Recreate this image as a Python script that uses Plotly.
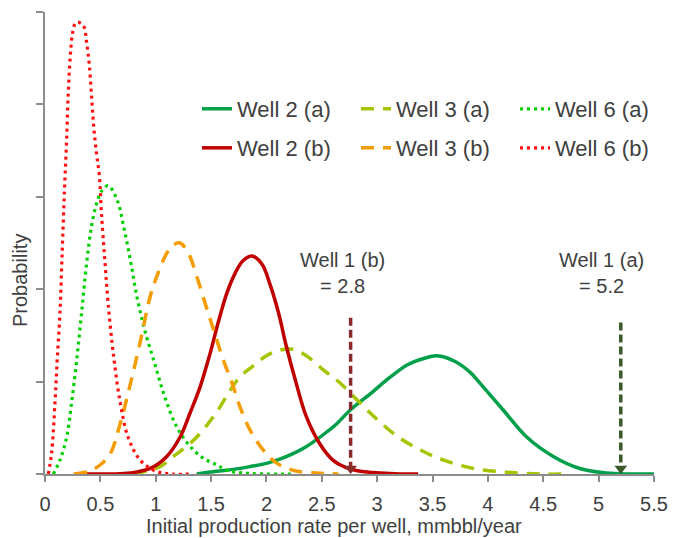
import plotly.graph_objects as go

# ---- distribution curves: initial production rate (mmbbl/year) vs probability ----
w2a_x = [1.37, 1.55, 1.70, 1.85, 2.00, 2.12, 2.24, 2.35, 2.45, 2.55, 2.64, 2.755, 2.94, 3.12,
         3.27, 3.42, 3.54, 3.70, 3.84, 3.93, 4.14, 4.35, 4.59, 4.83, 5.07, 5.30, 5.50]
w2a_y = [0.00, 0.03, 0.05, 0.08, 0.115, 0.16, 0.22, 0.29, 0.37, 0.46, 0.55, 0.69, 0.87, 1.05,
         1.18, 1.25, 1.28, 1.22, 1.10, 0.98, 0.69, 0.40, 0.19, 0.06, 0.01, 0.00, 0.00]

w3a_x = [0.80, 1.04, 1.16, 1.31, 1.43, 1.55, 1.67, 1.76, 1.88, 2.00, 2.12, 2.24, 2.36, 2.51,
         2.66, 2.82, 3.00, 3.19, 3.39, 3.60, 3.87, 4.17, 4.47, 4.71]
w3a_y = [0.00, 0.08, 0.19, 0.33, 0.48, 0.67, 0.90, 1.05, 1.17, 1.28, 1.34, 1.35, 1.28, 1.13,
         0.99, 0.80, 0.59, 0.40, 0.26, 0.15, 0.06, 0.02, 0.00, 0.00]

w6a_x = [0.075, 0.135, 0.196, 0.24, 0.286, 0.33, 0.376, 0.42, 0.467, 0.51, 0.57, 0.65, 0.71,
         0.77, 0.83, 0.90, 0.99, 1.08, 1.19, 1.31, 1.43, 1.55, 1.64, 1.80, 2.00, 2.24]
w6a_y = [0.00, 0.15, 0.40, 0.77, 1.23, 1.74, 2.28, 2.68, 2.93, 3.06, 3.12, 2.97, 2.68,
         2.32, 1.92, 1.56, 1.20, 0.84, 0.51, 0.30, 0.17, 0.10, 0.04, 0.01, 0.00, 0.00]

w2b_x = [0.37, 0.60, 0.77, 0.95, 1.10, 1.22, 1.31, 1.40, 1.49, 1.56, 1.64, 1.72, 1.79, 1.87,
         1.96, 2.03, 2.11, 2.18, 2.26, 2.36, 2.48, 2.60, 2.72, 2.85, 3.03, 3.20, 3.37]
w2b_y = [0.00, 0.00, 0.01, 0.06, 0.19, 0.40, 0.66, 0.94, 1.30, 1.62, 1.95, 2.18, 2.31, 2.36,
         2.27, 2.06, 1.74, 1.38, 1.02, 0.62, 0.33, 0.15, 0.07, 0.03, 0.01, 0.00, 0.00]

w3b_x = [0.26, 0.40, 0.50, 0.59, 0.68, 0.77, 0.86, 0.95, 1.02, 1.10, 1.16, 1.22, 1.295, 1.37,
         1.445, 1.52, 1.60, 1.69, 1.76, 1.85, 1.97, 2.09, 2.24, 2.45, 2.65]
w3b_y = [0.00, 0.03, 0.10, 0.22, 0.55, 0.97, 1.43, 1.92, 2.17, 2.39, 2.48, 2.50, 2.39, 2.14,
         1.85, 1.57, 1.27, 0.98, 0.73, 0.48, 0.26, 0.12, 0.04, 0.01, 0.00]

w6b_x = [0.03, 0.06, 0.09, 0.11, 0.135, 0.155, 0.175, 0.195, 0.21, 0.23, 0.25, 0.275, 0.30,
         0.33, 0.355, 0.375, 0.40, 0.42, 0.44, 0.465, 0.49, 0.51, 0.54, 0.57, 0.62, 0.68,
         0.75, 0.86, 1.00, 1.15, 1.34]
w6b_y = [0.00, 0.23, 0.77, 1.23, 1.74, 2.39, 3.05, 3.61, 4.12, 4.55, 4.78, 4.88, 4.89,
         4.87, 4.83, 4.68, 4.43, 4.10, 3.76, 3.47, 3.24, 2.82, 2.32, 1.85, 1.27, 0.77,
         0.40, 0.15, 0.03, 0.00, 0.00]

# Well 1 reference values (vertical arrows)
well1_names = ["Well 1 (b)", "Well 1 (a)"]
well1_x = [2.76, 5.20]
well1_top = [1.69, 1.64]

x_ticks = [0, 0.5, 1, 1.5, 2, 2.5, 3, 3.5, 4, 4.5, 5, 5.5]
x_tick_text = ["0", "0.5", "1", "1.5", "2", "2.5", "3", "3.5", "4", "4.5", "5", "5.5"]

# ---- styling ----
W, H = 673, 538
M_L, M_R, M_T, M_B = 45, 19, 12, 64
Y_MAX = 5
TEXT = "#404040"
FONT = "Liberation Sans, Arial, sans-serif"
DASH = "13px,9px"
DOT = "3px,4px"

series = [
    ("Well 2 (a)", w2a_x, w2a_y, "#00A04A", "solid", 3.5, "legend"),
    ("Well 3 (a)", w3a_x, w3a_y, "#A8C400", DASH, 3.5, "legend"),
    ("Well 6 (a)", w6a_x, w6a_y, "#00D000", DOT, 3.2, "legend"),
    ("Well 2 (b)", w2b_x, w2b_y, "#C00000", "solid", 3.5, "legend2"),
    ("Well 3 (b)", w3b_x, w3b_y, "#F59C00", DASH, 3.5, "legend2"),
    ("Well 6 (b)", w6b_x, w6b_y, "#FF1010", DOT, 3.2, "legend2"),
]

fig = go.Figure()
for name, xs, ys, color, dash, lw, leg in series:
    fig.add_trace(go.Scatter(
        x=xs, y=ys, name=name, mode="lines", legend=leg,
        line=dict(color=color, width=lw, dash=dash, shape="spline", smoothing=1.0),
        hoverinfo="skip",
    ))

# vertical dashed arrows marking Well 1
arrow_colors = ["#8B2A2A", "#3B5A2A"]
plot_w = W - M_L - M_R
plot_h = H - M_T - M_B
px_per_unit = plot_h / Y_MAX
head_size = 11
head_center = (head_size / 2) / px_per_unit  # tip of the head sits on the baseline
for name, xv, top, col in zip(well1_names, well1_x, well1_top, arrow_colors):
    fig.add_trace(go.Scatter(
        x=[xv, xv], y=[top, head_center], mode="lines", showlegend=False,
        line=dict(color=col, width=3.5, dash="8px,4px"), hoverinfo="skip",
    ))
    fig.add_trace(go.Scatter(
        x=[xv], y=[head_center], mode="markers", showlegend=False,
        marker=dict(symbol="triangle-down", size=head_size, color=col), hoverinfo="skip",
    ))

# labels above the arrows
label_pos = [(2.69, 2.18), (5.03, 2.18)]
for name, xv, (lx, ly) in zip(well1_names, well1_x, label_pos):
    fig.add_annotation(
        x=lx, y=ly, xref="x", yref="y", showarrow=False,
        text=f"{name}<br>= {xv:.1f}", align="center",
        font=dict(size=20, color=TEXT, family=FONT),
    )

# axis titles
fig.add_annotation(
    x=(334 - M_L) / plot_w, y=-(526 - (H - M_B)) / plot_h, xref="paper", yref="paper",
    text="Initial production rate per well, mmbbl/year", showarrow=False,
    xanchor="center", yanchor="middle", font=dict(size=20, color=TEXT, family=FONT),
)
fig.add_annotation(
    x=-(M_L - 20) / plot_w, y=((H - M_B) - 281) / plot_h, xref="paper", yref="paper",
    text="Probability", textangle=-90, showarrow=False,
    xanchor="center", yanchor="middle", font=dict(size=20, color=TEXT, family=FONT),
)

legend_common = dict(
    orientation="h", xanchor="left", yanchor="middle",
    font=dict(size=22, color=TEXT, family=FONT),
    bgcolor="rgba(0,0,0,0)", entrywidth=114, itemwidth=30,
    itemclick=False, itemdoubleclick=False,
)

fig.update_layout(
    width=W, height=H,
    margin=dict(l=M_L, r=M_R, t=M_T, b=M_B, autoexpand=False),
    paper_bgcolor="white", plot_bgcolor="white",
    font=dict(family=FONT, color=TEXT),
    showlegend=True,
    legend=dict(x=(197 - M_L) / plot_w, y=((H - M_B) - 109) / plot_h, **legend_common),
    legend2=dict(x=(197 - M_L) / plot_w, y=((H - M_B) - 148) / plot_h, **legend_common),
    xaxis=dict(
        range=[0, 5.5], tickvals=x_ticks, ticktext=x_tick_text,
        showline=True, linecolor="#8C8C8C", linewidth=1.5,
        ticks="outside", ticklen=6, tickcolor="#8C8C8C", tickwidth=1.5,
        tickfont=dict(size=20, color=TEXT, family=FONT), ticklabelstandoff=5,
        showgrid=False, zeroline=False, fixedrange=True,
    ),
    yaxis=dict(
        range=[0, Y_MAX], dtick=1, tick0=0, showticklabels=False,
        showline=True, linecolor="#8C8C8C", linewidth=1.5,
        ticks="outside", ticklen=7, tickcolor="#8C8C8C", tickwidth=1.5,
        showgrid=False, zeroline=False, fixedrange=True,
    ),
)

fig.write_html("out.html", config={"displayModeBar": False})
